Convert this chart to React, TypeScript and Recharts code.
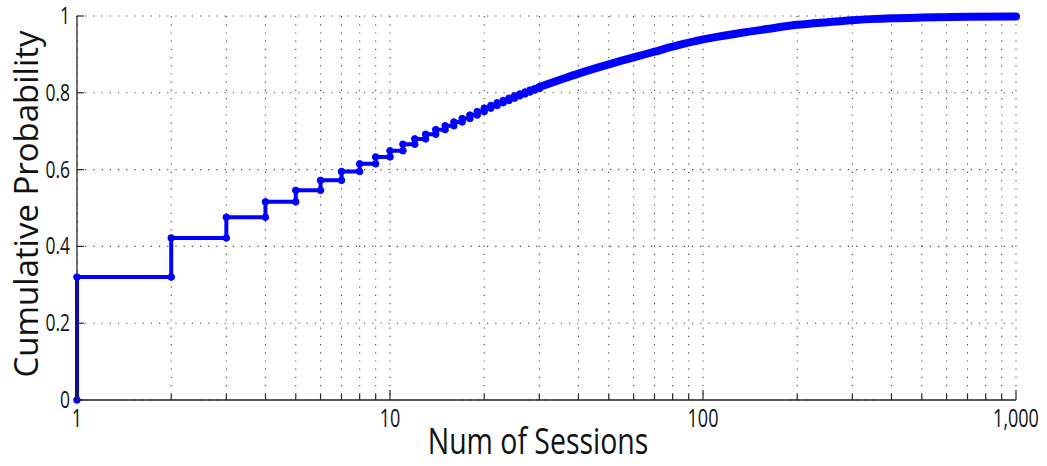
import { LineChart, Line, XAxis, YAxis, CartesianGrid } from "recharts";

// CDF of sessions per user
const sessions = [
  1, 2, 3, 4, 5, 6, 7, 8, 9, 10, 11, 12, 13, 14, 15, 16, 17, 18, 19, 20,
  21, 22, 23, 24, 25, 26, 27, 28, 29, 30,
];
const cdf = [
  0.32, 0.422, 0.476, 0.516, 0.546, 0.572, 0.595, 0.615, 0.633, 0.649,
  0.666, 0.68, 0.692, 0.704, 0.714, 0.724, 0.733, 0.742, 0.751, 0.76,
  0.767, 0.774, 0.78, 0.786, 0.792, 0.797, 0.802, 0.807, 0.811, 0.815,
];
// past ~30 the markers merge into one thick band
const tailSessions = [30, 35, 40, 50, 60, 70, 80, 100, 130, 160, 200, 250, 300, 400, 500, 700, 1000];
const tailCdf = [0.815, 0.834, 0.85, 0.874, 0.892, 0.907, 0.92, 0.939, 0.955, 0.966, 0.977, 0.984, 0.989, 0.994, 0.996, 0.998, 0.999];

const xTicks = [
  1, 2, 3, 4, 5, 6, 7, 8, 9, 10, 20, 30, 40, 50, 60, 70, 80, 90, 100,
  200, 300, 400, 500, 600, 700, 800, 900, 1000,
];
const xLabels = [1, 10, 100, 1000];
const yTicks = [0, 0.2, 0.4, 0.6, 0.8, 1];

const stairs: { x: number; y: number }[] = [{ x: sessions[0], y: 0 }];
sessions.forEach((s, i) => {
  stairs.push({ x: s, y: cdf[i] });
  if (i + 1 < sessions.length) stairs.push({ x: sessions[i + 1], y: cdf[i] });
});
const tail = tailSessions.map((s, i) => ({ x: s, y: tailCdf[i] }));

const FONT = '"Open Sans", sans-serif';
const AXIS = "#262626";
const BLUE = "#0000ff";

function BottomTick({ x, y, payload }: any) {
  const v = payload.value;
  const major = xLabels.includes(v);
  return (
    <g>
      <line x1={x} x2={x} y1={y} y2={y - (major ? 10 : 6)} stroke={AXIS} strokeWidth={1.2} />
      {major && (
        <text
          transform={`translate(${x},${y + 27}) scale(0.72,1)`}
          textAnchor="middle"
          fontSize={25}
          fontFamily={FONT}
          fill="#111"
        >
          {v.toLocaleString("en-US")}
        </text>
      )}
    </g>
  );
}

function TopTick({ x, y, payload }: any) {
  const major = xLabels.includes(payload.value);
  return <line x1={x} x2={x} y1={y} y2={y + (major ? 10 : 6)} stroke={AXIS} strokeWidth={1.2} />;
}

function LeftTick({ x, y, payload }: any) {
  return (
    <g>
      <line x1={x} x2={x + 7} y1={y} y2={y} stroke={AXIS} strokeWidth={1.2} />
      <text
        transform={`translate(${x - 7},${y + 8}) scale(0.76,1)`}
        textAnchor="end"
        fontSize={23}
        fontFamily={FONT}
        fill="#111"
      >
        {String(payload.value)}
      </text>
    </g>
  );
}

function RightTick({ x, y }: any) {
  return <line x1={x} x2={x - 7} y1={y} y2={y} stroke={AXIS} strokeWidth={1.2} />;
}

function XTitle({ viewBox }: any) {
  return (
    <text
      transform={`translate(538,${viewBox.y + 54}) scale(0.79,1)`}
      textAnchor="middle"
      fontSize={36}
      fontFamily={FONT}
      fill="#111"
    >
      Num of Sessions
    </text>
  );
}

function YTitle({ viewBox }: any) {
  const cy = viewBox.y + viewBox.height / 2 - 4;
  return (
    <text
      transform={`translate(38,${cy}) rotate(-90)`}
      textAnchor="middle"
      fontSize={32}
      fontFamily={FONT}
      textLength={347}
      lengthAdjust="spacingAndGlyphs"
      fill="#111"
    >
      Cumulative Probability
    </text>
  );
}

export default function App() {
  return (
    <div style={{ position: "absolute", left: 0, top: 0, background: "#fff" }}>
      <LineChart width={1047} height={466} margin={{ top: 16, right: 31, bottom: 0, left: 0 }}>
        <CartesianGrid stroke="#444" strokeDasharray="1.2 7" strokeWidth={1.1} />
        <XAxis
          dataKey="x"
          type="number"
          scale="log"
          domain={[1, 1000]}
          ticks={xTicks}
          interval={0}
          height={66}
          tickSize={0}
          tickMargin={0}
          tickLine={false}
          tick={<BottomTick />}
          axisLine={{ stroke: AXIS, strokeWidth: 1.3 }}
          label={{ content: <XTitle /> }}
        />
        <XAxis
          xAxisId="top"
          orientation="top"
          dataKey="x"
          type="number"
          scale="log"
          domain={[1, 1000]}
          ticks={xTicks}
          interval={0}
          height={0}
          tickSize={0}
          tickMargin={0}
          tickLine={false}
          tick={<TopTick />}
          axisLine={{ stroke: AXIS, strokeWidth: 1.3 }}
        />
        <YAxis
          type="number"
          domain={[0, 1]}
          ticks={yTicks}
          interval={0}
          width={77}
          tickSize={0}
          tickMargin={0}
          tickLine={false}
          tick={<LeftTick />}
          axisLine={{ stroke: AXIS, strokeWidth: 1.3 }}
          label={{ content: <YTitle /> }}
        />
        <YAxis
          yAxisId="right"
          orientation="right"
          type="number"
          domain={[0, 1]}
          ticks={yTicks}
          interval={0}
          width={0}
          tickSize={0}
          tickMargin={0}
          tickLine={false}
          tick={<RightTick />}
          axisLine={{ stroke: AXIS, strokeWidth: 1.3 }}
        />
        <Line
          data={tail}
          dataKey="y"
          type="monotone"
          stroke={BLUE}
          strokeWidth={8}
          strokeLinecap="round"
          dot={false}
          isAnimationActive={false}
        />
        <Line
          data={stairs}
          dataKey="y"
          type="linear"
          stroke={BLUE}
          strokeWidth={4}
          dot={{ r: 3.3, fill: BLUE, stroke: BLUE, strokeWidth: 1 }}
          isAnimationActive={false}
        />
      </LineChart>
    </div>
  );
}
